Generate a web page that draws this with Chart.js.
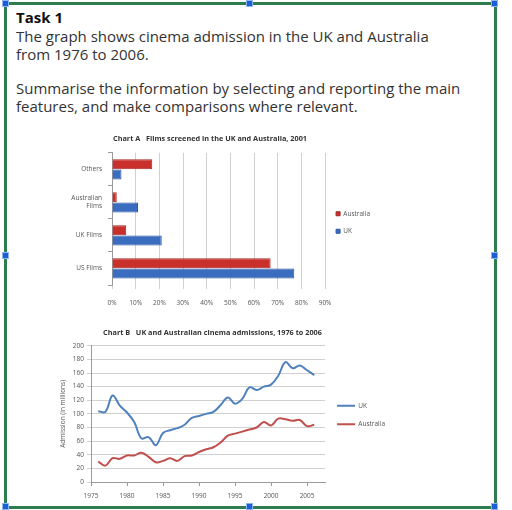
<!DOCTYPE html>
<html>
<head>
<meta charset="utf-8">
<script src="https://cdn.jsdelivr.net/npm/chart.js@4.4.1/dist/chart.umd.min.js"></script>
<style>
  html, body { margin: 0; padding: 0; background: #fff; }
  body { width: 512px; height: 510px; position: relative; overflow: hidden; font-family: "Open Sans", sans-serif; }
  #frame { position: absolute; left: 4px; top: 2px; width: 487px; height: 501px; border: 3px solid #2e7d4f; }
  .handle { position: absolute; width: 7px; height: 7px; background: #1a5fd6; border: 1px solid #8fb4f0; box-sizing: border-box; }
  #task { position: absolute; left: 16px; top: 8px; color: #333; font-size: 15px; line-height: 18.5px; }
  #task b { color: #111; font-weight: 700; }
  #task p { margin: 0; }
  #task p + p { margin-top: 15px; }
  #wrapA { position: absolute; left: 40px; top: 130px; width: 340px; height: 185px; }
  #wrapB { position: absolute; left: 30px; top: 322px; width: 365px; height: 186px; }
</style>
</head>
<body>
<div id="frame"></div>
<div class="handle" style="left:2px;top:0px"></div>
<div class="handle" style="left:246px;top:0px"></div>
<div class="handle" style="left:491px;top:0px"></div>
<div class="handle" style="left:2px;top:252px"></div>
<div class="handle" style="left:491px;top:252px"></div>
<div class="handle" style="left:2px;top:503px"></div>
<div class="handle" style="left:246px;top:503px"></div>
<div class="handle" style="left:491px;top:503px"></div>
<div id="task">
  <p><b>Task 1</b><br>The graph shows cinema admission in the UK and Australia<br>from 1976 to 2006.</p>
  <p>Summarise the information by selecting and reporting the main<br>features, and make comparisons where relevant.</p>
</div>
<div id="wrapA"><canvas id="chartA"></canvas></div>
<div id="wrapB"><canvas id="chartB"></canvas></div>
<script>
// ---- Chart A data ----
const filmCategories = ['Others', ['Australian', 'Films'], 'UK Films', 'US Films'];
const filmsAustralia = [17, 2, 6, 67];
const filmsUK = [4, 11, 21, 77];
const filmSeriesNames = ['Australia', 'UK'];
const titleA = 'Chart A   Films screened in the UK and Australia, 2001';

// ---- Chart B data ----
const years = [1976, 1977, 1978, 1979, 1980, 1981, 1982, 1983, 1984, 1985, 1986, 1987, 1988, 1989, 1990,
  1991, 1992, 1993, 1994, 1995, 1996, 1997, 1998, 1999, 2000, 2001, 2002, 2003, 2004, 2005, 2006];
const admissionsUK = [104, 103, 127, 112, 102, 88, 64, 66, 54, 72, 76, 79, 84, 94, 97,
  100, 103, 113, 124, 115, 122, 139, 135, 140, 143, 156, 176, 167, 171, 164, 157];
const admissionsAustralia = [30, 24, 35, 34, 39, 39, 43, 37, 29, 31, 35, 31, 38, 39, 44,
  48, 51, 58, 68, 71, 74, 77, 80, 88, 83, 93, 92, 90, 91, 82, 84];
const titleB = 'Chart B   UK and Australian cinema admissions, 1976 to 2006';
const yTitleB = 'Admission (in millions)';

const FONT = '"Open Sans", sans-serif';
const RED = '#c9302c', BLUE = '#3a6cc0';
const LRED = '#c0504d', LBLUE = '#4f81bd';
const GRID = '#d0d0d0', AXIS = '#9a9a9a', TXT = '#555';

Chart.defaults.font.family = FONT;
Chart.defaults.color = TXT;
Chart.defaults.animation = false;

new Chart(document.getElementById('chartA'), {
  type: 'bar',
  data: {
    labels: filmCategories,
    datasets: [
      { label: filmSeriesNames[0], data: filmsAustralia, backgroundColor: RED, borderColor: '#a52420', borderWidth: 1 },
      { label: filmSeriesNames[1], data: filmsUK, backgroundColor: BLUE, borderColor: '#2a559e', borderWidth: 1 }
    ]
  },
  options: {
    indexAxis: 'y',
    responsive: true,
    maintainAspectRatio: false,
    layout: { padding: 0 },
    categoryPercentage: 0.62,
    barPercentage: 0.98,
    plugins: {
      title: { display: true, text: titleA, font: { size: 7.3, weight: 'bold' }, color: '#333', padding: { top: 5, bottom: 9 } },
      legend: {
        position: 'right',
        labels: { boxWidth: 4, boxHeight: 4, padding: 11, font: { size: 6.5 }, color: TXT }
      },
      tooltip: { enabled: false }
    },
    scales: {
      x: {
        min: 0, max: 90,
        ticks: { stepSize: 10, callback: v => v + '%', font: { size: 6.5 }, padding: 10 },
        grid: { color: GRID, tickLength: 4 },
        border: { display: false },
        afterFit: s => { s.height = 30; }
      },
      y: {
        ticks: { font: { size: 6.5 }, padding: 6 },
        grid: { drawOnChartArea: false, tickLength: 4, color: AXIS },
        border: { color: AXIS },
        afterFit: s => { s.width = 72; }
      }
    }
  }
});

new Chart(document.getElementById('chartB'), {
  type: 'line',
  data: {
    datasets: [
      { label: 'UK', data: years.map((y, i) => ({ x: y, y: admissionsUK[i] })), borderColor: LBLUE, backgroundColor: LBLUE, borderWidth: 2, pointRadius: 0, tension: 0.4 },
      { label: 'Australia', data: years.map((y, i) => ({ x: y, y: admissionsAustralia[i] })), borderColor: LRED, backgroundColor: LRED, borderWidth: 2, pointRadius: 0, tension: 0.4 }
    ]
  },
  options: {
    responsive: true,
    maintainAspectRatio: false,
    layout: { padding: 0 },
    plugins: {
      title: { display: true, text: titleB, font: { size: 7.3, weight: 'bold' }, color: '#333', padding: { top: 7, bottom: 8 } },
      legend: {
        position: 'right',
        labels: { usePointStyle: true, pointStyle: 'line', pointStyleWidth: 18, padding: 12, font: { size: 6.5 }, color: TXT }
      },
      tooltip: { enabled: false }
    },
    scales: {
      x: {
        type: 'linear', min: 1975, max: 2007.5,
        ticks: { stepSize: 5, includeBounds: false, autoSkip: false, maxRotation: 0, font: { size: 6.5 }, padding: 6, callback: v => (v % 5 === 0 ? String(v) : '') },
        grid: { drawOnChartArea: false, tickLength: 4, color: AXIS },
        border: { color: AXIS },
        afterFit: s => { s.height = 26; }
      },
      y: {
        min: 0, max: 200,
        ticks: { stepSize: 20, font: { size: 6.5 }, padding: 3 },
        title: { display: true, text: yTitleB, font: { size: 6.5 }, padding: { top: 29, bottom: 0 }, color: TXT },
        grid: { color: GRID, tickLength: 4 },
        border: { color: AXIS },
        afterFit: s => { s.width = 61; }
      }
    }
  }
});
</script>
</body>
</html>
